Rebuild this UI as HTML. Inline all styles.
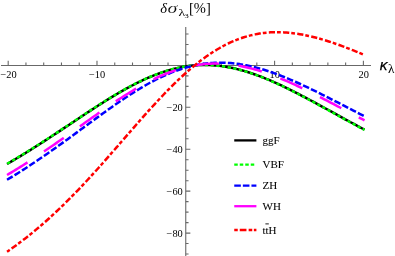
<!DOCTYPE html>
<html><head><meta charset="utf-8"><style>
html,body{margin:0;padding:0;background:#fff;}
body{width:395px;height:256px;overflow:hidden;position:relative;will-change:transform;font-family:"Liberation Serif",serif;}
svg{position:absolute;left:0;top:0;}
text{font-family:"Liberation Serif",serif;fill:#000;}
</style></head><body>
<svg width="395" height="256" viewBox="0 0 395 256">
<g fill="none" stroke="#686868" stroke-width="1.1">
<path d="M1 65.45 H371"/>
<path d="M185.75 27 V256"/>
<path d="M8.19 65.45 V60.75 M25.95 65.45 V62.45 M43.71 65.45 V62.45 M61.47 65.45 V62.45 M79.23 65.45 V62.45 M96.99 65.45 V60.75 M114.75 65.45 V62.45 M132.51 65.45 V62.45 M150.27 65.45 V62.45 M168.03 65.45 V62.45 M185.79 65.45 V60.75 M203.55 65.45 V62.45 M221.31 65.45 V62.45 M239.07 65.45 V62.45 M256.83 65.45 V62.45 M274.59 65.45 V60.75 M292.35 65.45 V62.45 M310.11 65.45 V62.45 M327.87 65.45 V62.45 M345.63 65.45 V62.45 M363.39 65.45 V60.75 "/>
<path d="M185.75 254.04 H188.55 M185.75 243.56 H188.55 M185.75 233.08 H190.35 M185.75 222.60 H188.55 M185.75 212.12 H188.55 M185.75 201.64 H188.55 M185.75 191.16 H190.35 M185.75 180.68 H188.55 M185.75 170.20 H188.55 M185.75 159.72 H188.55 M185.75 149.24 H190.35 M185.75 138.76 H188.55 M185.75 128.28 H188.55 M185.75 117.80 H188.55 M185.75 107.32 H190.35 M185.75 96.84 H188.55 M185.75 86.36 H188.55 M185.75 75.88 H188.55 M185.75 65.40 H190.35 M185.75 54.92 H188.55 M185.75 44.44 H188.55 M185.75 33.96 H188.55 "/>
</g>
<g font-size="10.4" text-anchor="middle">
<text x="8.6" y="77.8">−20</text>
<text x="97.1" y="77.8">−10</text>
<text x="274.7" y="77.8">10</text>
<text x="363.7" y="77.8">20</text>
</g>
<g fill="none" stroke-width="2.5" stroke-linecap="butt">
<path d="M7.04 164.03 L9.27 162.74 L11.50 161.43 L13.74 160.12 L15.97 158.79 L18.21 157.45 L20.44 156.10 L22.68 154.74 L24.91 153.37 L27.15 152.00 L29.38 150.61 L31.61 149.21 L33.85 147.81 L36.08 146.39 L38.32 144.97 L40.55 143.54 L42.79 142.10 L45.02 140.65 L47.26 139.20 L49.49 137.75 L51.72 136.28 L53.96 134.81 L56.19 133.34 L58.43 131.86 L60.66 130.38 L62.90 128.90 L65.13 127.41 L67.37 125.92 L69.60 124.43 L71.83 122.94 L74.07 121.45 L76.30 119.96 L78.54 118.48 L80.77 116.99 L83.01 115.51 L85.24 114.03 L87.48 112.56 L89.71 111.09 L91.94 109.63 L94.18 108.18 L96.41 106.73 L98.65 105.29 L100.88 103.87 L103.12 102.45 L105.35 101.05 L107.58 99.66 L109.82 98.28 L112.05 96.92 L114.29 95.57 L116.52 94.24 L118.76 92.93 L120.99 91.64 L123.23 90.36 L125.46 89.11 L127.69 87.88 L129.93 86.67 L132.16 85.49 L134.40 84.33 L136.63 83.20 L138.87 82.09 L141.10 81.01 L143.34 79.96 L145.57 78.94 L147.80 77.95 L150.04 76.99 L152.27 76.06 L154.51 75.16 L156.74 74.30 L158.98 73.47 L161.21 72.68 L163.45 71.93 L165.68 71.21 L167.91 70.52 L170.15 69.88 L172.38 69.27 L174.62 68.70 L176.85 68.18 L179.09 67.69 L181.32 67.24 L183.56 66.83 L185.79 66.46 L188.02 66.13 L190.26 65.85 L192.49 65.60 L194.73 65.40 L196.96 65.23 L199.20 65.11 L201.43 65.03 L203.67 64.99 L205.90 64.99 L208.13 65.03 L210.37 65.11 L212.60 65.24 L214.84 65.40 L217.07 65.60 L219.31 65.84 L221.54 66.12 L223.78 66.43 L226.01 66.79 L228.24 67.18 L230.48 67.61 L232.71 68.07 L234.95 68.57 L237.18 69.10 L239.42 69.67 L241.65 70.27 L243.89 70.90 L246.12 71.56 L248.35 72.25 L250.59 72.98 L252.82 73.73 L255.06 74.51 L257.29 75.31 L259.53 76.15 L261.76 77.00 L264.00 77.89 L266.23 78.79 L268.46 79.72 L270.70 80.67 L272.93 81.64 L275.17 82.63 L277.40 83.64 L279.64 84.67 L281.87 85.72 L284.10 86.78 L286.34 87.86 L288.57 88.95 L290.81 90.06 L293.04 91.18 L295.28 92.31 L297.51 93.45 L299.75 94.61 L301.98 95.77 L304.21 96.94 L306.45 98.12 L308.68 99.31 L310.92 100.51 L313.15 101.71 L315.39 102.92 L317.62 104.13 L319.86 105.34 L322.09 106.56 L324.32 107.79 L326.56 109.01 L328.79 110.24 L331.03 111.46 L333.26 112.69 L335.50 113.92 L337.73 115.15 L339.97 116.38 L342.20 117.60 L344.43 118.83 L346.67 120.05 L348.90 121.27 L351.14 122.49 L353.37 123.70 L355.61 124.91 L357.84 126.12 L360.08 127.32 L362.31 128.51 L364.54 129.71" stroke="#000"/>
<path d="M7.04 163.75 L9.27 162.46 L11.50 161.15 L13.74 159.84 L15.97 158.51 L18.21 157.17 L20.44 155.83 L22.68 154.47 L24.91 153.10 L27.15 151.72 L29.38 150.34 L31.61 148.94 L33.85 147.54 L36.08 146.12 L38.32 144.70 L40.55 143.27 L42.79 141.84 L45.02 140.39 L47.26 138.94 L49.49 137.49 L51.72 136.03 L53.96 134.56 L56.19 133.09 L58.43 131.61 L60.66 130.13 L62.90 128.65 L65.13 127.17 L67.37 125.68 L69.60 124.20 L71.83 122.71 L74.07 121.22 L76.30 119.73 L78.54 118.25 L80.77 116.77 L83.01 115.29 L85.24 113.81 L87.48 112.34 L89.71 110.88 L91.94 109.42 L94.18 107.97 L96.41 106.53 L98.65 105.09 L100.88 103.67 L103.12 102.26 L105.35 100.86 L107.58 99.47 L109.82 98.10 L112.05 96.74 L114.29 95.40 L116.52 94.07 L118.76 92.76 L120.99 91.48 L123.23 90.21 L125.46 88.96 L127.69 87.73 L129.93 86.53 L132.16 85.35 L134.40 84.19 L136.63 83.06 L138.87 81.96 L141.10 80.89 L143.34 79.84 L145.57 78.82 L147.80 77.84 L150.04 76.88 L152.27 75.96 L154.51 75.07 L156.74 74.21 L158.98 73.39 L161.21 72.60 L163.45 71.85 L165.68 71.14 L167.91 70.46 L170.15 69.82 L172.38 69.22 L174.62 68.66 L176.85 68.13 L179.09 67.65 L181.32 67.21 L183.56 66.80 L185.79 66.44 L188.02 66.12 L190.26 65.84 L192.49 65.59 L194.73 65.40 L196.96 65.24 L199.20 65.12 L201.43 65.04 L203.67 65.01 L205.90 65.02 L208.13 65.06 L210.37 65.15 L212.60 65.28 L214.84 65.44 L217.07 65.65 L219.31 65.89 L221.54 66.18 L223.78 66.50 L226.01 66.86 L228.24 67.26 L230.48 67.69 L232.71 68.16 L234.95 68.66 L237.18 69.20 L239.42 69.77 L241.65 70.37 L243.89 71.01 L246.12 71.67 L248.35 72.37 L250.59 73.10 L252.82 73.85 L255.06 74.63 L257.29 75.45 L259.53 76.28 L261.76 77.14 L264.00 78.03 L266.23 78.94 L268.46 79.87 L270.70 80.83 L272.93 81.80 L275.17 82.80 L277.40 83.81 L279.64 84.84 L281.87 85.89 L284.10 86.96 L286.34 88.04 L288.57 89.13 L290.81 90.24 L293.04 91.36 L295.28 92.50 L297.51 93.64 L299.75 94.80 L301.98 95.97 L304.21 97.14 L306.45 98.32 L308.68 99.52 L310.92 100.71 L313.15 101.92 L315.39 103.13 L317.62 104.34 L319.86 105.56 L322.09 106.78 L324.32 108.00 L326.56 109.23 L328.79 110.46 L331.03 111.69 L333.26 112.92 L335.50 114.15 L337.73 115.38 L339.97 116.61 L342.20 117.83 L344.43 119.06 L346.67 120.28 L348.90 121.50 L351.14 122.72 L353.37 123.94 L355.61 125.15 L357.84 126.35 L360.08 127.55 L362.31 128.75 L364.54 129.94" stroke="#0f0" stroke-dasharray="3.3 2.435" stroke-dashoffset="-0.25"/>
<path d="M7.04 179.77 L9.27 178.43 L11.50 177.08 L13.74 175.71 L15.97 174.33 L18.21 172.94 L20.44 171.54 L22.68 170.12 L24.91 168.68 L27.15 167.24 L29.38 165.78 L31.61 164.31 L33.85 162.83 L36.08 161.34 L38.32 159.83 L40.55 158.32 L42.79 156.79 L45.02 155.25 L47.26 153.70 L49.49 152.15 L51.72 150.58 L53.96 149.00 L56.19 147.42 L58.43 145.83 L60.66 144.23 L62.90 142.62 L65.13 141.01 L67.37 139.39 L69.60 137.77 L71.83 136.14 L74.07 134.50 L76.30 132.87 L78.54 131.23 L80.77 129.59 L83.01 127.95 L85.24 126.31 L87.48 124.67 L89.71 123.03 L91.94 121.39 L94.18 119.76 L96.41 118.13 L98.65 116.50 L100.88 114.88 L103.12 113.27 L105.35 111.66 L107.58 110.07 L109.82 108.48 L112.05 106.90 L114.29 105.34 L116.52 103.79 L118.76 102.25 L120.99 100.73 L123.23 99.22 L125.46 97.73 L127.69 96.26 L129.93 94.81 L132.16 93.37 L134.40 91.96 L136.63 90.57 L138.87 89.21 L141.10 87.87 L143.34 86.55 L145.57 85.26 L147.80 84.00 L150.04 82.77 L152.27 81.56 L154.51 80.39 L156.74 79.25 L158.98 78.14 L161.21 77.06 L163.45 76.02 L165.68 75.02 L167.91 74.04 L170.15 73.11 L172.38 72.21 L174.62 71.35 L176.85 70.53 L179.09 69.74 L181.32 69.00 L183.56 68.30 L185.79 67.63 L188.02 67.01 L190.26 66.43 L192.49 65.89 L194.73 65.39 L196.96 64.93 L199.20 64.52 L201.43 64.14 L203.67 63.81 L205.90 63.52 L208.13 63.28 L210.37 63.07 L212.60 62.91 L214.84 62.79 L217.07 62.71 L219.31 62.68 L221.54 62.68 L223.78 62.72 L226.01 62.81 L228.24 62.93 L230.48 63.09 L232.71 63.29 L234.95 63.53 L237.18 63.81 L239.42 64.13 L241.65 64.48 L243.89 64.86 L246.12 65.29 L248.35 65.74 L250.59 66.23 L252.82 66.75 L255.06 67.30 L257.29 67.89 L259.53 68.50 L261.76 69.15 L264.00 69.82 L266.23 70.52 L268.46 71.25 L270.70 72.00 L272.93 72.78 L275.17 73.58 L277.40 74.41 L279.64 75.26 L281.87 76.13 L284.10 77.02 L286.34 77.93 L288.57 78.86 L290.81 79.80 L293.04 80.77 L295.28 81.75 L297.51 82.75 L299.75 83.76 L301.98 84.78 L304.21 85.82 L306.45 86.87 L308.68 87.93 L310.92 89.01 L313.15 90.09 L315.39 91.18 L317.62 92.28 L319.86 93.39 L322.09 94.51 L324.32 95.63 L326.56 96.76 L328.79 97.89 L331.03 99.03 L333.26 100.17 L335.50 101.32 L337.73 102.47 L339.97 103.62 L342.20 104.77 L344.43 105.93 L346.67 107.08 L348.90 108.24 L351.14 109.40 L353.37 110.55 L355.61 111.71 L357.84 112.86 L360.08 114.02 L362.31 115.17 L364.54 116.31" stroke="#00f" stroke-dasharray="6.55 2.22"/>
<path d="M7.04 174.99 L9.27 173.67 L11.50 172.33 L13.74 170.98 L15.97 169.61 L18.21 168.24 L20.44 166.85 L22.68 165.45 L24.91 164.04 L27.15 162.61 L29.38 161.18 L31.61 159.73 L33.85 158.27 L36.08 156.80 L38.32 155.32 L40.55 153.83 L42.79 152.33 L45.02 150.82 L47.26 149.30 L49.49 147.77 L51.72 146.24 L53.96 144.70 L56.19 143.15 L58.43 141.59 L60.66 140.02 L62.90 138.46 L65.13 136.88 L67.37 135.30 L69.60 133.72 L71.83 132.13 L74.07 130.54 L76.30 128.95 L78.54 127.36 L80.77 125.77 L83.01 124.17 L85.24 122.58 L87.48 120.99 L89.71 119.40 L91.94 117.82 L94.18 116.24 L96.41 114.67 L98.65 113.10 L100.88 111.54 L103.12 109.99 L105.35 108.44 L107.58 106.91 L109.82 105.38 L112.05 103.87 L114.29 102.37 L116.52 100.89 L118.76 99.42 L120.99 97.97 L123.23 96.53 L125.46 95.11 L127.69 93.72 L129.93 92.34 L132.16 90.98 L134.40 89.65 L136.63 88.33 L138.87 87.05 L141.10 85.79 L143.34 84.55 L145.57 83.34 L147.80 82.16 L150.04 81.01 L152.27 79.89 L154.51 78.80 L156.74 77.75 L158.98 76.72 L161.21 75.73 L163.45 74.78 L165.68 73.86 L167.91 72.98 L170.15 72.13 L172.38 71.32 L174.62 70.55 L176.85 69.81 L179.09 69.12 L181.32 68.46 L183.56 67.85 L185.79 67.28 L188.02 66.74 L190.26 66.25 L192.49 65.80 L194.73 65.39 L196.96 65.02 L199.20 64.70 L201.43 64.41 L203.67 64.17 L205.90 63.97 L208.13 63.81 L210.37 63.69 L212.60 63.62 L214.84 63.58 L217.07 63.59 L219.31 63.64 L221.54 63.72 L223.78 63.85 L226.01 64.02 L228.24 64.22 L230.48 64.46 L232.71 64.74 L234.95 65.06 L237.18 65.42 L239.42 65.81 L241.65 66.23 L243.89 66.70 L246.12 67.19 L248.35 67.72 L250.59 68.28 L252.82 68.87 L255.06 69.49 L257.29 70.14 L259.53 70.82 L261.76 71.53 L264.00 72.27 L266.23 73.03 L268.46 73.82 L270.70 74.63 L272.93 75.47 L275.17 76.33 L277.40 77.21 L279.64 78.12 L281.87 79.04 L284.10 79.98 L286.34 80.94 L288.57 81.92 L290.81 82.92 L293.04 83.93 L295.28 84.95 L297.51 86.00 L299.75 87.05 L301.98 88.12 L304.21 89.20 L306.45 90.29 L308.68 91.39 L310.92 92.50 L313.15 93.62 L315.39 94.74 L317.62 95.88 L319.86 97.02 L322.09 98.17 L324.32 99.32 L326.56 100.48 L328.79 101.64 L331.03 102.80 L333.26 103.97 L335.50 105.14 L337.73 106.32 L339.97 107.49 L342.20 108.67 L344.43 109.84 L346.67 111.02 L348.90 112.20 L351.14 113.37 L353.37 114.54 L355.61 115.72 L357.84 116.89 L360.08 118.05 L362.31 119.22 L364.54 120.38" stroke="#f0f" stroke-dasharray="24 19.8"/>
<path d="M7.04 251.70 L9.27 250.16 L11.50 248.60 L13.74 247.01 L15.97 245.40 L18.21 243.75 L20.44 242.09 L22.68 240.39 L24.91 238.67 L27.15 236.92 L29.38 235.15 L31.61 233.35 L33.85 231.52 L36.08 229.66 L38.32 227.78 L40.55 225.88 L42.79 223.94 L45.02 221.98 L47.26 219.99 L49.49 217.98 L51.72 215.94 L53.96 213.87 L56.19 211.78 L58.43 209.67 L60.66 207.52 L62.90 205.36 L65.13 203.17 L67.37 200.95 L69.60 198.71 L71.83 196.45 L74.07 194.17 L76.30 191.86 L78.54 189.53 L80.77 187.18 L83.01 184.82 L85.24 182.43 L87.48 180.02 L89.71 177.59 L91.94 175.15 L94.18 172.69 L96.41 170.22 L98.65 167.73 L100.88 165.23 L103.12 162.71 L105.35 160.19 L107.58 157.65 L109.82 155.10 L112.05 152.55 L114.29 149.99 L116.52 147.42 L118.76 144.85 L120.99 142.28 L123.23 139.70 L125.46 137.13 L127.69 134.55 L129.93 131.98 L132.16 129.42 L134.40 126.85 L136.63 124.30 L138.87 121.75 L141.10 119.22 L143.34 116.69 L145.57 114.18 L147.80 111.68 L150.04 109.20 L152.27 106.74 L154.51 104.30 L156.74 101.88 L158.98 99.48 L161.21 97.10 L163.45 94.75 L165.68 92.43 L167.91 90.14 L170.15 87.87 L172.38 85.64 L174.62 83.44 L176.85 81.28 L179.09 79.15 L181.32 77.06 L183.56 75.00 L185.79 72.99 L188.02 71.02 L190.26 69.09 L192.49 67.20 L194.73 65.35 L196.96 63.55 L199.20 61.80 L201.43 60.09 L203.67 58.44 L205.90 56.83 L208.13 55.26 L210.37 53.75 L212.60 52.29 L214.84 50.88 L217.07 49.52 L219.31 48.21 L221.54 46.96 L223.78 45.75 L226.01 44.60 L228.24 43.50 L230.48 42.46 L232.71 41.47 L234.95 40.52 L237.18 39.64 L239.42 38.80 L241.65 38.02 L243.89 37.28 L246.12 36.60 L248.35 35.97 L250.59 35.39 L252.82 34.86 L255.06 34.38 L257.29 33.95 L259.53 33.57 L261.76 33.24 L264.00 32.95 L266.23 32.71 L268.46 32.52 L270.70 32.37 L272.93 32.27 L275.17 32.21 L277.40 32.19 L279.64 32.21 L281.87 32.28 L284.10 32.38 L286.34 32.52 L288.57 32.71 L290.81 32.93 L293.04 33.18 L295.28 33.47 L297.51 33.80 L299.75 34.16 L301.98 34.55 L304.21 34.97 L306.45 35.43 L308.68 35.91 L310.92 36.42 L313.15 36.96 L315.39 37.53 L317.62 38.13 L319.86 38.75 L322.09 39.39 L324.32 40.05 L326.56 40.74 L328.79 41.45 L331.03 42.19 L333.26 42.94 L335.50 43.71 L337.73 44.49 L339.97 45.30 L342.20 46.12 L344.43 46.96 L346.67 47.81 L348.90 48.68 L351.14 49.56 L353.37 50.46 L355.61 51.36 L357.84 52.28 L360.08 53.21 L362.31 54.15 L364.54 55.10" stroke="#f00" stroke-dasharray="6.2 2 3.75 2.3" stroke-dashoffset="8.7"/>
</g>
<g font-size="10.4" text-anchor="end">
<text x="182.8" y="110.9">−20</text>
<text x="182.8" y="152.8">−40</text>
<text x="182.8" y="194.7">−60</text>
<text x="182.8" y="236.6">−80</text>
</g>
<g font-size="14.5">
<text x="160.3" y="12.8" font-style="italic">δ</text>
<text transform="translate(167.4,12.8) scale(1.38,1)" font-style="italic" stroke="#fff" stroke-width="0.12">σ</text>
<text transform="translate(178.6,16) scale(1.35,1)" font-size="10.3">λ</text>
<text transform="translate(184.6,17.8) scale(1.25,1)" font-size="6.8">3</text>
<text x="189.0" y="13">[%]</text>
</g>
<text x="379.7" y="69.8" font-size="15.4" font-style="italic" stroke="#000" stroke-width="0.25" style="font-family:'Liberation Sans',sans-serif">κ</text>
<text transform="translate(388,72.8) scale(1.15,1)" font-size="11.5">λ</text>
<g fill="none" stroke-width="2.3">
<path d="M234.25 140.4 H256.4" stroke="#000"/>
<path d="M234.25 164.6 H254.4" stroke="#0f0" stroke-dasharray="3.5 2"/>
<path d="M234.25 185.6 H256.4" stroke="#00f" stroke-dasharray="6.6 2"/>
<path d="M234.25 206.2 H256.4" stroke="#f0f"/>
<path d="M234.25 230 H256.4" stroke="#f00" stroke-dasharray="3.5 2 6.7 2.2 3.6 1.6 2.6 0"/>
</g>
<g font-size="11" stroke="#000" stroke-width="0.07">
<text x="262.5" y="144.0">ggF</text>
<text x="262.5" y="168.0">VBF</text>
<text x="262.5" y="189.0">ZH</text>
<text x="262.5" y="210.2">WH</text>
<text x="262.5" y="233.8">ttH</text>
</g>
<path d="M265.4 223.9 H268.8" stroke="#000" stroke-width="0.9"/>
</svg>
</body></html>
